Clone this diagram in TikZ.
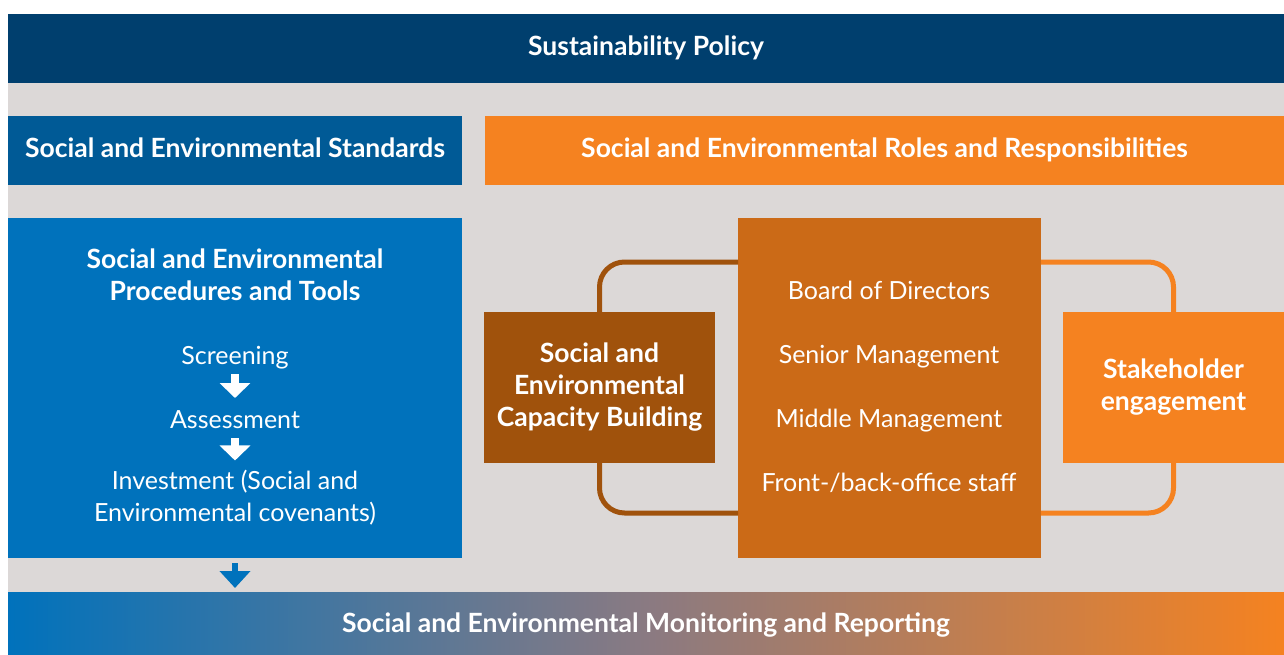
\documentclass[tikz,border=0pt]{standalone}
\usepackage{fontspec}
\setmainfont{Lato}
\usetikzlibrary{positioning,arrows.meta}

\definecolor{policyblue}{HTML}{003F6E}
\definecolor{stdblue}{HTML}{005A96}
\definecolor{procblue}{HTML}{0072BC}
\definecolor{paneltone}{HTML}{DCD8D7}
\definecolor{roleorange}{HTML}{F58220}
\definecolor{staffbrown}{HTML}{CB6A17}
\definecolor{capbrown}{HTML}{A0520C}
\definecolor{midmauve}{HTML}{8A7A82}

\begin{document}
\begin{tikzpicture}[x=1pt, y=-1pt]
    \tikzset{
        panel/.style = {rectangle, inner sep=0pt, outer sep=0pt, text=white, align=center,
                        font=\fontsize{26.5}{32}\selectfont\bfseries},
        oneline/.style = {text height=19pt, text depth=0pt},
        headline/.style = {text height=16pt, text depth=3pt},
        item/.style = {inner sep=0pt, outer sep=0pt, text=white, align=center,
                       font=\fontsize{25}{32}\selectfont, text height=18pt, text depth=0pt},
        downarrow/.style = {line width=8pt, white, -{Triangle[width=30pt,length=15pt]}},
        loopline/.style = {line width=5pt, rounded corners=25pt}
    }
    \useasboundingbox (0,0) rectangle (1284,654);
    \fill[paneltone] (8,83) rectangle (1284,654);

    % header rows
    \node (policy) [panel, headline, fill=policyblue, minimum width=1276pt, minimum height=69pt] at (646,48.5) {Sustainability Policy};
    \node (standards) [panel, headline, fill=stdblue, minimum width=454pt, minimum height=69pt] at (235,150.5) {Social and Environmental Standards};
    \node (roles) [panel, headline, fill=roleorange, minimum width=799pt, minimum height=69pt] at (884.5,150.5) {Social and Environmental Roles and Responsibilities};

    % procedures column
    \node (procedures) [panel, fill=procblue, minimum width=454pt, minimum height=340pt] at (235,388) {};
    \node (proctitle) [panel] at (235,275) {Social and Environmental\\Procedures and Tools};
    \node (screening) [item] at (235,355) {Screening};
    \node (assessment) [item, below=46pt of screening] {Assessment};
    \node (investment) [item, text height=, text depth=] at (235,498) {Investment (Social and\\Environmental covenants)};
    \draw [downarrow, shorten <=10pt, shorten >=12pt] (screening) -- (assessment);
    \draw [downarrow, shorten <=10pt, shorten >=10pt] (assessment) -- (investment);

    % roles block
    \node (centre) [panel, fill=staffbrown, minimum width=303pt, minimum height=340pt] at (889.5,388) {};
    \node (board) [item] at (889,290) {Board of Directors};
    \node (senior) [item, below=46pt of board] {Senior Management};
    \node (middle) [item, below=46.5pt of senior] {Middle Management};
    \node (front) [item, below=46pt of middle] {Front-/back-office staff};

    \node (capacity) [panel, fill=capbrown, minimum width=231pt, minimum height=151pt] at (599.5,387.5) {Social and\\Environmental\\Capacity Building};
    \node (stakeholder) [panel, fill=roleorange, minimum width=221pt, minimum height=151pt] at (1173.5,387.5) {Stakeholder\\engagement};

    \draw [loopline, capbrown] ([yshift=-44pt]centre.north west) -| (capacity.north);
    \draw [loopline, capbrown] ([yshift=45pt]centre.south west) -| (capacity.south);
    \draw [loopline, roleorange] ([yshift=-44pt]centre.north east) -| (stakeholder.north);
    \draw [loopline, roleorange] ([yshift=45pt]centre.south east) -| (stakeholder.south);

    % bottom bar
    \node (monitoring) [panel, oneline, left color=procblue, right color=roleorange, middle color=midmauve, minimum width=1276pt, minimum height=62pt] at (646,623) {Social and Environmental Monitoring and Reporting};
    \draw [line width=6pt, procblue, -{Triangle[width=30pt,length=17pt]}, shorten <=5pt, shorten >=4pt] (procedures.south) -- (procedures.south |- monitoring.north);
\end{tikzpicture}
\end{document}
